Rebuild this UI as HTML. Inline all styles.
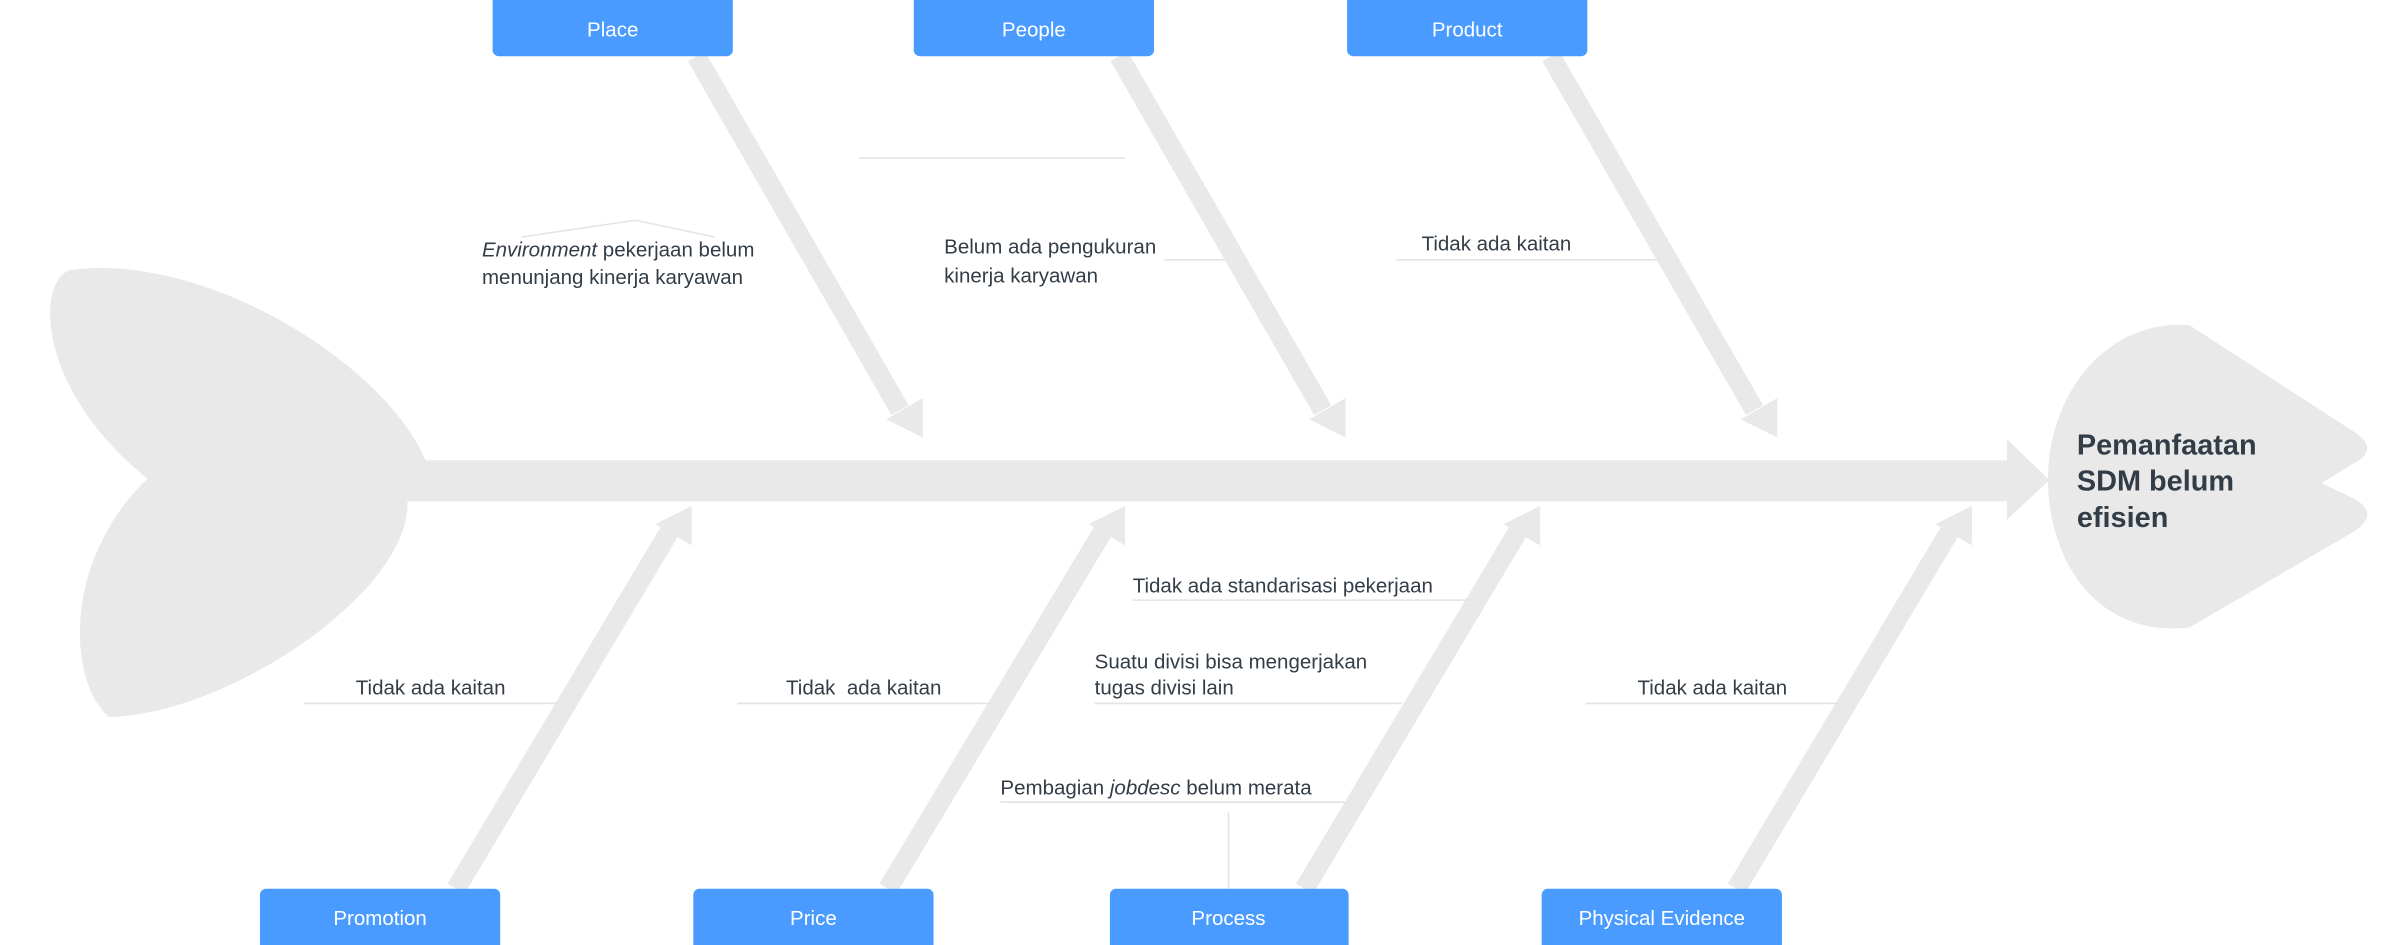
<!DOCTYPE html>
<html><head><meta charset="utf-8"><style>
html,body{margin:0;padding:0;background:#fff;width:2384px;height:945px;overflow:hidden}
svg{display:block}
text{font-family:"Liberation Sans",sans-serif;fill:#333d47}
.b{fill:#fff;font-size:13.5px;text-anchor:middle}
.l{font-size:13.5px}
</style></head><body>
<svg width="2384" height="945" viewBox="0 0 1568 622" preserveAspectRatio="none" xmlns="http://www.w3.org/2000/svg">
<g fill="#e9e9e9">
<path d="M280,303 C250,235 130,165 45,178 C22,190 28,260 97,315 C40,370 45,450 72,472 C150,470 270,390 268,330 Z"/>
<rect x="268" y="303" width="1055" height="27"/>
<polygon points="1320,289 1348,316 1320,342"/>
<path d="M1440,214 L1548,284 Q1566,296 1548,305 L1527,318 L1548,328 Q1566,338 1548,350 L1440,413 C1380,420 1347,370 1347,315 C1347,260 1385,210 1440,214 Z"/>
</g>
<g stroke="#e9e9e9" stroke-width="13" fill="none">
<line x1="458" y1="37" x2="592" y2="270"/>
<line x1="736" y1="37" x2="870" y2="270"/>
<line x1="1020" y1="37" x2="1154" y2="270"/>
<line x1="300" y1="585" x2="442" y2="347"/>
<line x1="584" y1="585" x2="727" y2="347"/>
<line x1="858" y1="585" x2="1000" y2="347"/>
<line x1="1142" y1="585" x2="1284" y2="347"/>
</g>
<g fill="#e9e9e9">
<polygon points="583,276 607,262 607,288"/>
<polygon points="861,276 885,262 885,288"/>
<polygon points="1145,276 1169,262 1169,288"/>
<polygon points="431,345 455,333 455,359"/>
<polygon points="716,345 740,333 740,359"/>
<polygon points="989,345 1013,333 1013,359"/>
<polygon points="1273,345 1297,333 1297,359"/>
</g>
<g stroke="#e3e3e3" stroke-width="1" fill="none">
<polyline points="343,156 418,145 470,156"/>
<line x1="565" y1="104" x2="740" y2="104"/>
<line x1="766" y1="171" x2="806" y2="171"/>
<line x1="918" y1="171" x2="1092" y2="171"/>
<line x1="745" y1="395" x2="968" y2="395"/>
<line x1="720" y1="463" x2="922" y2="463"/>
<line x1="200" y1="463" x2="367" y2="463"/>
<line x1="485" y1="463" x2="652" y2="463"/>
<line x1="1043" y1="463" x2="1210" y2="463"/>
<line x1="658" y1="528" x2="885" y2="528"/>
<line x1="808" y1="535" x2="808" y2="585"/>
</g>
<g fill="#4a9bff">
<rect x="324" y="-5" width="158" height="42" rx="4"/>
<rect x="601" y="-5" width="158" height="42" rx="4"/>
<rect x="886" y="-5" width="158" height="42" rx="4"/>
<rect x="171" y="585" width="158" height="42" rx="4"/>
<rect x="456" y="585" width="158" height="42" rx="4"/>
<rect x="730" y="585" width="157" height="42" rx="4"/>
<rect x="1014" y="585" width="158" height="42" rx="4"/>
</g>
<text class="b" x="403" y="24">Place</text>
<text class="b" x="680" y="24">People</text>
<text class="b" x="965" y="24">Product</text>
<text class="b" x="250" y="609">Promotion</text>
<text class="b" x="535" y="609">Price</text>
<text class="b" x="808" y="609">Process</text>
<text class="b" x="1093" y="609">Physical Evidence</text>
<text class="l" x="317" y="169"><tspan font-style="italic">Environment</tspan> pekerjaan belum</text>
<text class="l" x="317" y="187">menunjang kinerja karyawan</text>
<text class="l" x="621" y="167">Belum ada pengukuran</text>
<text class="l" x="621" y="186">kinerja karyawan</text>
<text class="l" x="935" y="165">Tidak ada kaitan</text>
<text class="l" x="745" y="390">Tidak ada standarisasi pekerjaan</text>
<text class="l" x="720" y="440">Suatu divisi bisa mengerjakan</text>
<text class="l" x="720" y="457">tugas divisi lain</text>
<text class="l" x="234" y="457">Tidak ada kaitan</text>
<text class="l" x="517" y="457" xml:space="preserve">Tidak  ada kaitan</text>
<text class="l" x="1077" y="457">Tidak ada kaitan</text>
<text class="l" x="658" y="523">Pembagian <tspan font-style="italic">jobdesc</tspan> belum merata</text>
<text x="1366" y="299" font-size="19" font-weight="bold">Pemanfaatan</text>
<text x="1366" y="323" font-size="19" font-weight="bold">SDM belum</text>
<text x="1366" y="347" font-size="19" font-weight="bold">efisien</text>
</svg>
</body></html>
